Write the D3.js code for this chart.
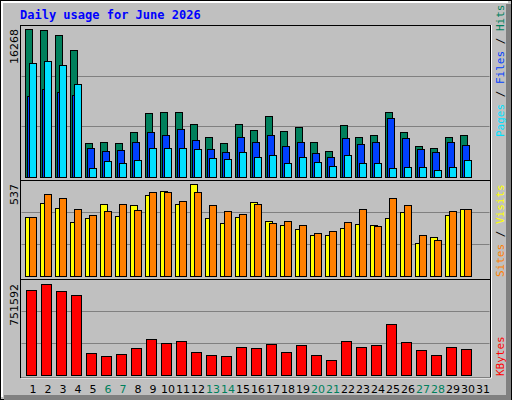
<!DOCTYPE html>
<html><head><meta charset="utf-8">
<script src="https://cdn.jsdelivr.net/npm/d3@7"></script>
<style>body{margin:0;background:#fff}svg{display:block}</style>
</head><body>
<script>
const days = d3.range(1, 32);
const weekends = [6,7,13,14,20,21,27,28];
const hits  = [16268,16230,15680,14030,3680,3790,3680,4890,6980,7090,7090,5770,4340,3680,5770,5110,6650,5000,5440,3790,2800,5660,4340,4560,7090,4890,3350,3130,4340,4560,0];
const files = [8960,9730,9400,9070,3130,2800,2910,3790,4890,4560,5220,4010,3020,2690,4340,3790,4560,3350,3790,2580,2140,4230,3570,3790,6430,4230,3020,2690,3790,3460,0];
const pages = [12600,12820,12380,10280,920,1700,1480,1810,3130,3130,3130,3020,2030,1920,2690,2140,2360,1480,2140,1590,1150,2360,1480,1480,920,1030,1030,700,1030,1810,0];
const visits = [343,430,401,319,337,424,354,413,477,500,419,537,337,313,343,436,325,296,278,238,243,284,302,296,337,372,191,226,360,395,0];
const sites  = [343,483,459,395,360,378,424,384,489,489,442,489,413,378,366,419,313,325,296,249,261,319,395,290,459,413,243,208,378,395,0];
const kbytes = [702000,751592,694000,661000,182000,157000,173000,223000,297000,264000,281000,190000,165000,157000,231000,223000,256000,190000,248000,165000,124000,281000,231000,248000,421000,273000,206000,165000,231000,215000,0];
const maxLabels = ["16268","537","751592"];

const W=512,H=400;
const svg=d3.select("body").append("svg").attr("width",W).attr("height",H);
svg.append("rect").attr("width",W).attr("height",H).attr("fill","#c0c0c0");
// bevel
svg.append("rect").attr("x",0.5).attr("y",0.5).attr("width",W-1).attr("height",H-1).attr("fill","none").attr("stroke","#000");
svg.append("path").attr("d","M2,397V2H508").attr("stroke","#fff").attr("stroke-width",2).attr("fill","none");
svg.append("path").attr("d","M508.5,4V397.5H4").attr("stroke","#808080").attr("stroke-width",5).attr("fill","none");

svg.append("text").attr("x",20).attr("y",19).text("Daily usage for June 2026")
  .attr("font-family","DejaVu Sans Mono").attr("font-weight","bold").attr("font-size",12).attr("fill","#0000ff");

const x = d3.scaleLinear().domain([1,31]).range([25,475]);
const L=20.5,R=490.5;
// panels frame
[[25,180],[180,279],[279,377]].forEach(([t,b])=>{
  svg.append("rect").attr("x",L).attr("y",t+0.5).attr("width",R-L).attr("height",b-t).attr("fill","#c0c0c0").attr("stroke","#000");
});
svg.append("path").attr("d",`M${R+1},25V378H21`).attr("stroke","#fff").attr("fill","none");

function grid(y0,y1){
  [1/3,2/3].forEach(f=>{
    const yy=Math.round(y0-(y0-y1)*f)+0.5;
    svg.append("line").attr("x1",L+1).attr("x2",R-1).attr("y1",yy).attr("y2",yy).attr("stroke","#808080");
  });
}
const y1=d3.scaleLinear().domain([0,16268]).range([176.7,29.3]);
const y2=d3.scaleLinear().domain([0,537]).range([276,184.3]);
const y3=d3.scaleLinear().domain([0,751592]).range([375.3,284.3]);
grid(176.7,25.5); grid(276,180.5); grid(375.3,279.5);

function bars(data,y,off,w,color){
  svg.append("g").selectAll("rect").data(days.filter((d,i)=>data[i]>0)).join("rect")
    .attr("x",d=>Math.round(x(d)+off)+0.5).attr("width",w)
    .attr("y",d=>Math.round(y(data[d-1]))+0.5)
    .attr("height",d=>Math.max(0,Math.round(y(0))-Math.round(y(data[d-1]))))
    .attr("fill",color).attr("stroke","#000");
}
bars(hits,y1,0,7,"#00805c");
bars(files,y1,2,7,"#0040ff");
bars(pages,y1,4,7,"#00e0ff");
bars(visits,y2,0,7,"#ffff00");
bars(sites,y2,4,7,"#ff8000");
bars(kbytes,y3,1,10,"#ff0000");

// x labels
svg.append("g").selectAll("text").data(days).join("text")
  .attr("x",d=>x(d)+8).attr("y",393).attr("text-anchor","middle")
  .attr("font-family","DejaVu Sans").attr("font-size",11)
  .attr("fill",d=>weekends.includes(d)?"#00805c":"#000").text(d=>d);

// max labels
[[29,maxLabels[0]],[184,maxLabels[1]],[284,maxLabels[2]]].forEach(([yy,t])=>{
  svg.append("text").attr("transform",`translate(18,${yy}) rotate(-90)`).attr("text-anchor","end")
    .attr("font-family","DejaVu Sans").attr("font-size",11).attr("fill","#000").text(t);
});

function sideLabel(yBottom,parts){
  const t=svg.append("text").attr("transform",`translate(504,${yBottom}) rotate(-90)`)
    .attr("font-family","DejaVu Sans Mono").attr("font-size",11);
  parts.forEach(([s,c])=>t.append("tspan").attr("fill",c).text(s));
}
sideLabel(137,[["Pages","#00e0ff"],[" / ","#000"],["Files","#0040ff"],[" / ","#000"],["Hits","#00805c"]]);
sideLabel(277,[["Sites","#ff8000"],[" / ","#000"],["Visits","#ffff00"]]);
sideLabel(376,[["KBytes","#ff0000"]]);
</script>
</body></html>
